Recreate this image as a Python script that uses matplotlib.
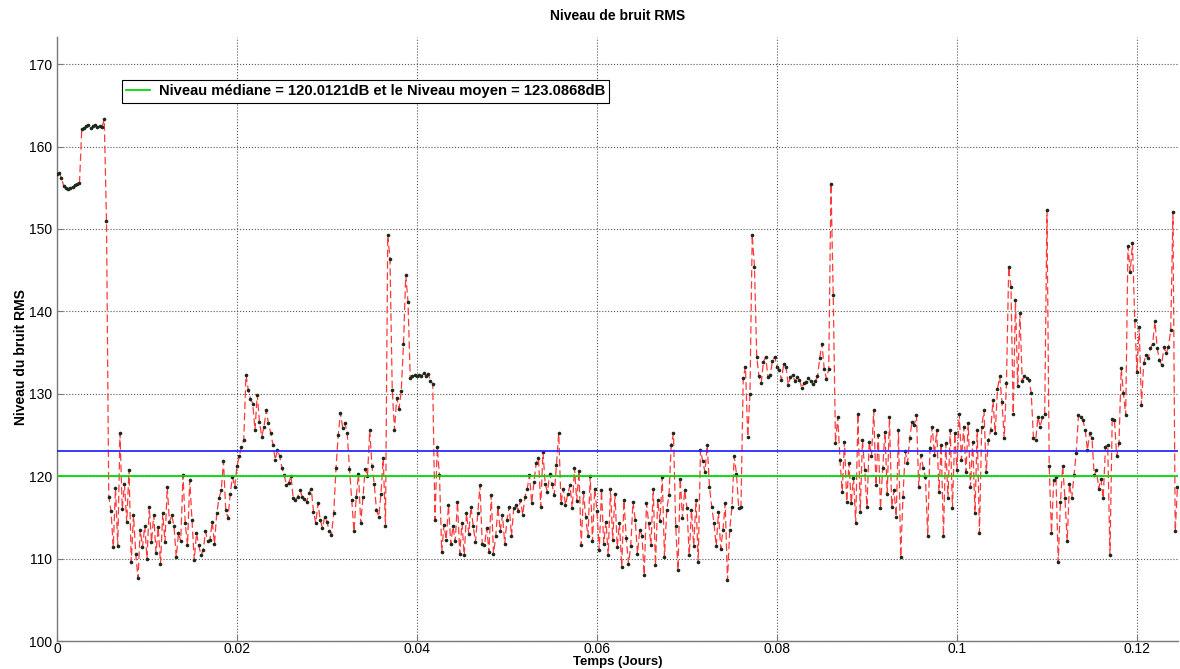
import numpy as np
import matplotlib
matplotlib.use("Agg")
import matplotlib.pyplot as plt

plt.rcParams['font.family'] = ['Liberation Sans', 'DejaVu Sans']

# ---- data ----
title = "Niveau de bruit RMS"
xlabel = "Temps (Jours)"
ylabel = "Niveau du bruit RMS"
median_level = 120.0121
mean_level = 123.0868
legend_label = "Niveau médiane = 120.0121dB et le Niveau moyen = 123.0868dB"
sample_step = 0.00025  # days between samples

seg_a = [156.7, 156.8, 156.2, 155.2, 155.0, 154.9, 155.0, 155.1, 155.3, 155.4,
         155.6, 162.1, 162.2, 162.5, 162.6, 162.3, 162.5, 162.6, 162.4, 162.5,
         162.4, 163.3, 151.0]
seg_b = [117.5, 115.8, 111.4, 118.6, 111.5, 125.2, 116.0, 119.0, 114.4, 120.8,
         109.6, 115.3, 110.6, 107.6, 113.5, 111.4, 114.0, 110.0, 116.3, 112.0,
         115.3, 110.7, 113.8, 109.4, 115.5, 112.0, 118.7, 114.4]
seg_c = [115.3, 113.9, 110.2, 113.1, 112.1, 120.1, 114.3, 111.6, 119.5, 114.7,
         109.8, 113.1, 111.6, 110.4, 111.0, 113.3, 112.1, 112.3, 114.5, 111.8,
         115.5, 117.3, 118.3, 121.8, 115.9, 114.9, 117.9, 119.9, 118.7, 121.2,
         122.4, 123.6, 124.4, 132.3, 130.5, 129.4, 128.8, 125.6, 129.9, 126.6,
         124.8, 126.0, 128.0, 126.4, 125.2, 123.8, 122.0, 123.2, 122.4, 121.0,
         120.1]
seg_d = [118.9, 119.2, 120.0, 117.3, 117.1, 117.5, 118.3, 117.5, 117.2, 116.9,
         118.0, 118.5, 115.7, 114.3, 116.7, 114.7, 113.7, 115.1, 114.5, 113.3,
         112.9, 115.5, 121.0, 125.0, 127.7, 125.8, 126.4, 125.2, 120.9, 117.1,
         113.3, 117.5, 120.3, 114.3, 117.5, 120.9, 120.0, 125.6, 121.2, 119.1,
         115.9, 115.1, 117.9, 122.2, 113.9, 149.3, 146.4, 130.5, 125.6, 129.5,
         128.2]
seg_e = [130.3, 136.0, 144.4, 141.2, 131.9, 132.1, 132.3, 132.2, 132.3, 132.2,
         132.5, 132.2, 132.4, 131.6, 131.2, 114.7, 123.5, 120.1, 110.8, 114.1,
         112.3, 116.5, 111.8, 113.9, 112.1, 116.9, 110.6, 114.3, 110.4, 115.5,
         113.0, 116.3, 113.9, 112.0, 115.5, 118.9, 111.8, 111.6, 113.7, 110.8,
         117.7, 110.6, 112.7, 116.3, 113.3, 115.3, 111.8, 114.7, 116.3, 112.7,
         116.1]
seg_f = [116.5, 115.8, 117.1, 115.3, 117.5, 118.5, 120.1, 116.7, 119.3, 121.6,
         122.2, 116.3, 122.9, 119.0, 118.1, 120.3, 119.1, 117.7, 121.4, 125.2,
         116.7, 118.5, 116.5, 117.8, 118.9, 116.1, 121.0, 117.0, 120.6, 111.6,
         118.1, 115.0, 112.7, 120.0, 112.1, 118.5, 115.8, 111.0, 118.3, 111.8,
         114.5, 110.4, 118.5, 112.3, 117.9, 111.4, 114.3, 109.0, 117.1, 112.5,
         109.4]
seg_g = [111.5, 116.9, 114.7, 110.6, 113.5, 112.8, 108.0, 116.7, 114.3, 111.6,
         118.5, 109.2, 117.1, 114.6, 119.9, 110.2, 115.9, 117.7, 123.8, 125.2,
         113.9, 108.6, 119.7, 114.9, 118.3, 116.1, 110.4, 115.9, 111.5, 117.1,
         109.6, 123.2, 121.8, 120.5, 123.8, 118.7, 116.3, 114.3, 111.5, 115.7,
         111.2, 113.5, 116.7, 107.4, 113.5, 116.3, 122.4, 120.3, 116.1]
seg_h = [116.3, 131.9, 133.3, 124.8, 130.0, 149.3, 145.4, 134.5, 132.1, 131.3,
         133.9, 134.5, 132.0, 132.3, 134.0, 134.5, 133.3, 132.9, 131.7, 133.6,
         133.3, 131.1, 132.0, 132.3, 131.5, 132.0, 131.7, 130.7, 131.3, 131.4,
         131.9, 131.5, 131.2, 131.5, 132.1, 134.3, 136.1, 133.0, 131.8, 133.0,
         155.5, 142.0, 124.0, 127.2, 122.0, 118.1, 124.2, 116.9, 121.6, 116.7,
         119.8, 114.3, 127.6, 115.7]
seg_i = [124.4, 120.7, 116.3, 124.2, 122.4, 128.0, 118.9, 125.0, 116.1, 121.0,
         125.4, 117.9, 127.2, 116.3, 118.3, 115.1, 125.6, 110.2, 117.5, 123.0,
         121.6, 124.6, 126.6, 126.2, 127.4, 118.7, 122.6, 121.0, 119.9, 112.7,
         123.4, 126.0, 122.6, 125.6, 118.1, 123.8, 112.7, 124.0, 117.3, 125.6,
         116.1, 125.2, 120.7, 127.6, 122.0, 126.0, 120.5, 126.4, 118.7, 124.2,
         115.5]
seg_j = [125.6, 113.1, 126.0, 128.0, 120.5, 124.4, 125.6, 129.2, 125.2, 130.6,
         132.1, 129.0, 124.6, 131.3, 145.4, 143.0, 127.6, 141.4, 130.9, 139.8,
         131.5, 132.2, 131.9, 131.7, 130.1, 124.6, 124.4, 127.2, 126.0, 127.2,
         127.6, 152.3, 121.2, 113.1, 119.5, 119.9, 109.6, 116.9, 121.2, 117.3,
         112.1, 119.1, 117.3, 120.1, 122.8, 127.4, 127.2, 126.8, 125.6, 123.2,
         125.2]
seg_k = [124.6, 120.1, 120.7, 118.5, 119.7, 117.3, 123.6, 123.8, 110.4, 127.0,
         126.8, 122.4, 124.0, 133.1, 130.1, 127.4, 147.9, 144.8, 148.3, 139.0,
         132.7, 138.1, 128.6, 133.7, 134.7, 134.3, 135.5, 136.1, 138.8, 135.5,
         134.1, 133.5, 135.7, 134.9, 135.7, 137.7, 152.1, 113.3, 118.7]

x_ticks = [0, 0.02, 0.04, 0.06, 0.08, 0.1, 0.12]
x_tick_labels = ["0", "0.02", "0.04", "0.06", "0.08", "0.1", "0.12"]
y_ticks = [100, 110, 120, 130, 140, 150, 160, 170]

levels = np.array(seg_a + seg_b + seg_c + seg_d + seg_e + seg_f + seg_g
                  + seg_h + seg_i + seg_j + seg_k)
times = np.arange(len(levels)) * sample_step

# ---- figure ----
fig = plt.figure(figsize=(11.8, 6.69), dpi=100)
ax = fig.add_axes([57 / 1180, 28 / 669, 1121 / 1180, 604 / 669])

ax.plot(times, levels, color='#ff3a3a', lw=0.9, linestyle=(0, (6, 3)),
        marker='.', markersize=3.2, markerfacecolor='#1c2a1c',
        markeredgecolor='#1c2a1c', zorder=3)
ax.axhline(mean_level, color='#2a2aff', lw=1.3, zorder=4)
ax.axhline(median_level, color='#00dd00', lw=1.3, zorder=4, label=legend_label)

ax.set_xlim(0, 0.12456)
ax.set_ylim(100, 173.3)
ax.set_xticks(x_ticks)
ax.set_xticklabels(x_tick_labels)
ax.set_yticks(y_ticks)
ax.grid(True, linestyle=':', color='#555555', lw=0.8, zorder=1)
ax.set_axisbelow(True)

for side in ['top', 'right']:
    ax.spines[side].set_visible(False)
for side in ['left', 'bottom']:
    ax.spines[side].set_color('#7a7a7a')
    ax.spines[side].set_linewidth(1.0)
ax.tick_params(direction='in', length=4, color='#7a7a7a', labelsize=10,
               labelcolor='black')
ax.tick_params(axis='x', pad=1)

ax.set_title(title, fontsize=10, fontweight='bold', pad=12)
ax.set_xlabel(xlabel, fontsize=9.5, fontweight='bold')
ax.xaxis.set_label_coords(0.5, -0.0255)
ax.set_ylabel(ylabel, fontsize=10, fontweight='bold')
ax.yaxis.set_label_coords(-0.026, 0.47)

leg = ax.legend(loc='upper left', bbox_to_anchor=(0.058, 0.929),
                borderaxespad=0, fancybox=False, framealpha=1,
                edgecolor='black', prop={'weight': 'bold', 'size': 10.6},
                handlelength=1.6, handletextpad=0.6, borderpad=0.3)
leg.get_frame().set_linewidth(0.8)

fig.savefig('out.png', dpi=100)
